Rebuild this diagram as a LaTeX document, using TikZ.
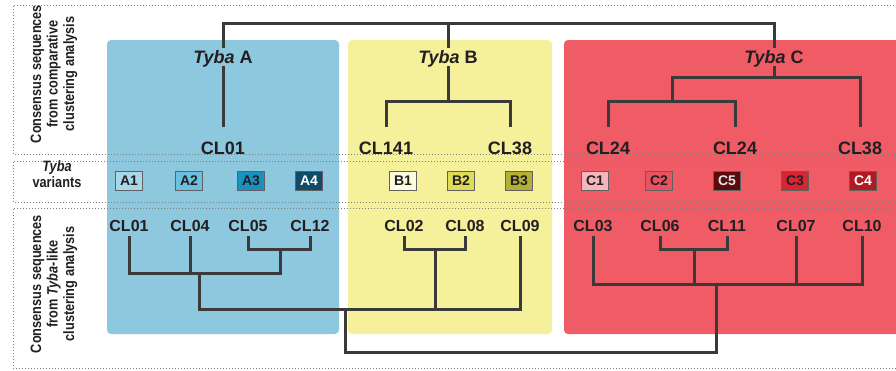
\documentclass[tikz,border=0pt]{standalone}
\usepackage{fontspec}
\setmainfont{Liberation Sans}
\newfontfamily\narrowsans{Liberation Sans}[FakeStretch=0.85]
\definecolor{txt}{HTML}{231F20}
\definecolor{treeline}{HTML}{3A3A3A}
\definecolor{pblue}{HTML}{8DC8DF}
\definecolor{pyellow}{HTML}{F5F09A}
\definecolor{pred}{HTML}{EF5C66}
\definecolor{va1}{HTML}{A9D7EA}
\definecolor{va2}{HTML}{6CC0DF}
\definecolor{va3}{HTML}{1992C0}
\definecolor{va4}{HTML}{0D4C6B}
\definecolor{vb1}{HTML}{FDFCDC}
\definecolor{vb2}{HTML}{DEDB57}
\definecolor{vb3}{HTML}{B3AE34}
\definecolor{vc1}{HTML}{F7B6BC}
\definecolor{vc2}{HTML}{E9525E}
\definecolor{vc5}{HTML}{5C0A0C}
\definecolor{vc3}{HTML}{D92432}
\definecolor{vc4}{HTML}{B01A22}
\begin{document}
\begin{tikzpicture}[x=1pt,y=-1pt,
  panel/.style={rounded corners=4pt},
  sep/.style={draw=black!50,line width=1pt,dash pattern=on 1pt off 2pt},
  tree/.style={draw=treeline,line width=3pt},
  toplbl/.style={font=\fontsize{18}{20}\selectfont\bfseries,text=txt,inner xsep=1pt,inner ysep=14pt,text height=13pt,text depth=0pt},
  grouplbl/.style={font=\fontsize{18}{20}\selectfont\bfseries,text=txt,inner sep=2pt,text height=13pt,text depth=0pt},
  botlbl/.style={font=\fontsize{16}{18}\selectfont\bfseries,text=txt,inner xsep=1pt,inner ysep=4pt,text height=11.5pt,text depth=0pt},
  vbox/.style={draw=black!62,line width=0.8pt,minimum width=27pt,minimum height=19pt,inner sep=0pt,
    font=\fontsize{14}{16}\selectfont\bfseries,text=txt},
  sidelbl/.style={font=\narrowsans\fontsize{15}{16.5}\selectfont\bfseries,text=txt,align=center}
]
\useasboundingbox (0,0) rectangle (896,370);

% coloured group panels
\fill[pblue,panel] (107,40) rectangle (339,334);
\fill[pyellow,panel] (348,40) rectangle (552,334);
\fill[pred,panel] (564,40) rectangle (905,334);

% dotted row frames
\draw[sep] (900,5) -- (13,5) -- (13,154) -- (900,154);
\draw[sep] (900,161) -- (13,161) -- (13,202) -- (900,202);
\draw[sep] (900,208) -- (13,208) -- (13,368) -- (900,368);

% row captions
\node[sidelbl,rotate=90] (capTop) at (54,74) {Consensus sequences\\from comparative\\clustering analysis};
\node[sidelbl] (capMid) at (57,174) {\itshape Tyba\\variants};
\node[sidelbl,rotate=90] (capBot) at (54,284) {Consensus sequences\\from \itshape Tyba\upshape-like\\clustering analysis};

% group names
\node[grouplbl] (TA) at (223,57) {\itshape Tyba\upshape{} A};
\node[grouplbl] (TB) at (448,57) {\itshape Tyba\upshape{} B};
\node[grouplbl] (TC) at (774,57) {\itshape Tyba\upshape{} C};

% consensus sequences, comparative analysis
\node[toplbl] (uA) at (223,148) {CL01};
\node[toplbl] (uB1) at (386,148) {CL141};
\node[toplbl] (uB2) at (510,148) {CL38};
\node[toplbl] (uC1) at (608,148) {CL24};
\node[toplbl] (uC2) at (735,148) {CL24};
\node[toplbl] (uC3) at (860,148) {CL38};

% variants
\node[vbox,fill=va1] (A1) at (129,180.5) {A1};
\node[vbox,fill=va2] (A2) at (189,180.5) {A2};
\node[vbox,fill=va3] (A3) at (251,180.5) {A3};
\node[vbox,fill=va4,text=white] (A4) at (309,180.5) {A4};
\node[vbox,fill=vb1] (B1) at (403,180.5) {B1};
\node[vbox,fill=vb2] (B2) at (461,180.5) {B2};
\node[vbox,fill=vb3] (B3) at (519,180.5) {B3};
\node[vbox,fill=vc1] (C1) at (595,180.5) {C1};
\node[vbox,fill=vc2] (C2) at (659,180.5) {C2};
\node[vbox,fill=vc5,text=white!90!black] (C5) at (727,180.5) {C5};
\node[vbox,fill=vc3] (C3) at (795,180.5) {C3};
\node[vbox,fill=vc4,text=white] (C4) at (863,180.5) {C4};

% consensus sequences, Tyba-like analysis
\node[botlbl] (lA1) at (129,226) {CL01};
\node[botlbl] (lA2) at (190,226) {CL04};
\node[botlbl] (lA3) at (248,226) {CL05};
\node[botlbl] (lA4) at (310,226) {CL12};
\node[botlbl] (lB1) at (404,226) {CL02};
\node[botlbl] (lB2) at (465,226) {CL08};
\node[botlbl] (lB3) at (520,226) {CL09};
\node[botlbl] (lC1) at (593,226) {CL03};
\node[botlbl] (lC2) at (660,226) {CL06};
\node[botlbl] (lC3) at (727,226) {CL11};
\node[botlbl] (lC4) at (796,226) {CL07};
\node[botlbl] (lC5) at (862,226) {CL10};

% upper tree
\coordinate (top) at (448,23);
\coordinate (jB) at (448,101);
\coordinate (kC) at (774,77);
\coordinate (jC) at (672,101);
\draw[tree] (TA.north) |- (top) -| (TC.north);
\draw[tree] (TB.north) -- (top);
\draw[tree] (TA.south) -- (uA.north);
\draw[tree] (TB.south) -- (jB);
\draw[tree] (uB1.north) |- (jB) -| (uB2.north);
\draw[tree] (TC.south) -- (kC);
\draw[tree] (jC) |- (kC) -| (uC3.north);
\draw[tree] (uC1.north) |- (jC) -| (uC2.north);

% lower tree
\coordinate (mA1) at (280,249);
\coordinate (mA) at (199,273);
\coordinate (mB1) at (435,249);
\coordinate (mAB) at (345,309);
\coordinate (mC1) at (694,249);
\coordinate (mC) at (716,284);
\coordinate (mR) at (530,352);
\draw[tree] (lA3.south) |- (mA1) -| (lA4.south);
\draw[tree] (lA1.south) |- (mA) -| (mA1);
\draw[tree] (lA2.south) -- (lA2.south |- mA);
\draw[tree] (lB1.south) |- (mB1) -| (lB2.south);
\draw[tree] (mA) |- (mAB) -| (lB3.south);
\draw[tree] (mB1) -- (mB1 |- mAB);
\draw[tree] (lC2.south) |- (mC1) -| (lC3.south);
\draw[tree] (lC1.south) |- (mC) -| (lC5.south);
\draw[tree] (mC1) -- (mC1 |- mC);
\draw[tree] (lC4.south) -- (lC4.south |- mC);
\draw[tree] (mAB) |- (mR) -| (mC);
\end{tikzpicture}
\end{document}
